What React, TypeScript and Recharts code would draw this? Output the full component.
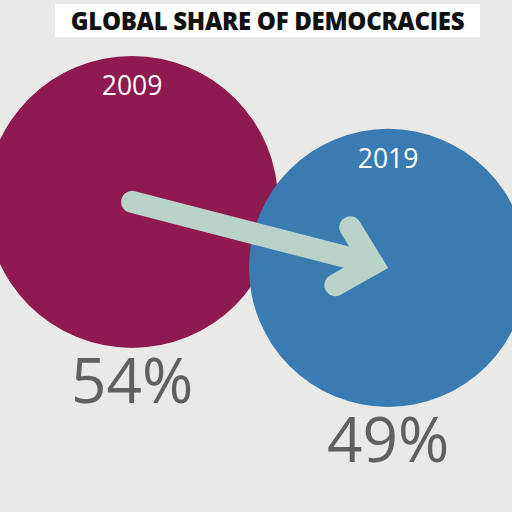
import { ScatterChart, Scatter, XAxis, YAxis, ZAxis, ReferenceLine } from 'recharts';

const years = [2009, 2019];
const shares = [54, 49];
const colors = ['#8e1a50', '#3a7bb2'];

const data = years.map((year, i) => ({ year, value: shares[i], color: colors[i] }));

const Bubble = (props: any) => {
  const { cx, cy, payload } = props;
  const r = props.width ? props.width / 2 : Math.sqrt((props.size || 0) / Math.PI);
  return (
    <g>
      <circle cx={cx} cy={cy} r={r} fill={payload.color} />
      <text x={cx} y={cy - r + 39} textAnchor="middle" fill="#fff" fontSize={26.5} fontFamily="'Open Sans', sans-serif">
        {payload.year}
      </text>
      <text x={cx} y={cy + r + 55} textAnchor="middle" fill="#606060" fontSize={62} fontFamily="'Open Sans', sans-serif">
        {payload.value}%
      </text>
    </g>
  );
};

const Arrow = (props: any) => {
  const { x1, y1, x2, y2 } = props;
  const dx = x2 - x1;
  const dy = y2 - y1;
  const len = Math.sqrt(dx * dx + dy * dy);
  const ux = dx / len;
  const uy = dy / len;
  const w = 22;
  const half = (44 * Math.PI) / 180;
  // put the miter tip on the end point
  const vx = x2 - ux * (w / 2 / Math.sin(half));
  const vy = y2 - uy * (w / 2 / Math.sin(half));
  const back = Math.atan2(-uy, -ux);
  const arm = 43;
  const a1x = vx + arm * Math.cos(back + half);
  const a1y = vy + arm * Math.sin(back + half);
  const a2x = vx + arm * Math.cos(back - half);
  const a2y = vy + arm * Math.sin(back - half);
  return (
    <g>
      <path d={`M${x1},${y1} L${vx},${vy}`} stroke="#b9d3c9" strokeWidth={w} strokeLinecap="round" fill="none" />
      <path
        d={`M${a1x},${a1y} L${vx},${vy} L${a2x},${a2y}`}
        stroke="#b9d3c9"
        strokeWidth={w}
        strokeLinecap="round"
        strokeLinejoin="miter"
        strokeMiterlimit={10}
        fill="none"
      />
    </g>
  );
};

export default function App() {
  return (
    <div style={{ position: 'relative', width: 512, height: 512, background: '#e9e9e7', overflow: 'hidden' }}>
      <style>{`body{margin:0}`}</style>
      <div
        style={{
          position: 'absolute',
          left: 55,
          top: 4,
          width: 425,
          height: 33,
          background: '#fff',
          display: 'flex',
          alignItems: 'center',
          justifyContent: 'center',
          fontFamily: "'Open Sans', sans-serif",
          fontWeight: 800,
          fontSize: 24,
          letterSpacing: -0.3,
          color: '#111',
          zIndex: 2,
        }}
      >
        GLOBAL SHARE OF DEMOCRACIES
      </div>
      <ScatterChart width={512} height={512} margin={{ top: 0, right: 0, bottom: 0, left: 0 }}>
        <XAxis type="number" dataKey="year" domain={[2003.84, 2023.84]} hide />
        <YAxis type="number" dataKey="value" domain={[30.5, 69.3]} hide />
        <ZAxis type="number" dataKey="value" domain={[0, 54]} range={[0, 66966]} />
        <Scatter data={data} shape={Bubble} isAnimationActive={false} zIndex={100} />
        <ReferenceLine
          segment={[
            { x: years[0], y: shares[0] },
            { x: years[1], y: shares[1] },
          ]}
          shape={Arrow}
          ifOverflow="visible"
          zIndex={900}
        />
      </ScatterChart>
    </div>
  );
}
